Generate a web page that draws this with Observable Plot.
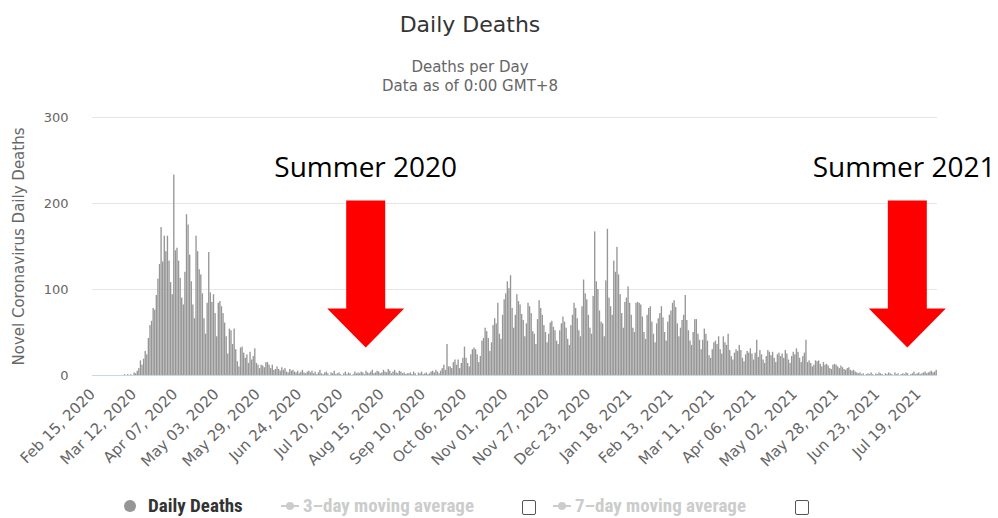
<!DOCTYPE html>
<html><head><meta charset="utf-8">
<script src="https://cdn.jsdelivr.net/npm/d3@7"></script>
<script src="https://cdn.jsdelivr.net/npm/@observablehq/plot@0.6"></script>
<style>
html,body{margin:0;padding:0;background:#fff;}
#page{position:relative;width:998px;height:518px;overflow:hidden;font-family:"DejaVu Sans",sans-serif;}
#title{position:absolute;left:0;width:940px;top:14px;text-align:center;font-size:22px;line-height:22px;color:#333;}
#subtitle{position:absolute;left:0;width:940px;top:58px;text-align:center;font-size:15px;line-height:19px;color:#666;}
#chart{position:absolute;left:0;top:100px;}
#legend{position:absolute;left:0;top:496px;height:20px;width:998px;font-family:"Liberation Sans Narrow","Roboto Condensed","Roboto",sans-serif;font-size:19px;font-weight:bold;}
.sym{position:absolute;top:0;height:20px;}
.txt{position:absolute;top:0;height:20px;line-height:20px;white-space:nowrap;}
.box{position:absolute;top:4px;width:12px;height:13px;border:1px solid #555;border-radius:2px;background:#fff;}
</style></head>
<body>
<div id="page">
  <div id="title">Daily Deaths</div>
  <div id="subtitle">Deaths per Day<br>Data as of 0:00 GMT+8</div>
  <div id="chart"></div>
  <div id="legend"></div>
</div>
<script>
// ---- data ----
const startDate = "2020-02-15";
const deathsFeb2020 = [0,0,0,0,0,0,0,0,0,0,0,0,0,0,0];
const deathsMar2020 = [0,0,0,0,0,1,0,1,0,1,0,3,2,5,8,17,12,19,28,24,43,58,63,78,76,93,112,129,172,132,162];
const deathsApr2020 = [144,162,133,108,94,233,145,148,133,113,90,82,120,187,175,140,109,82,66,162,144,123,117,95,66,48,84,143,96,85];
const deathsMay2020 = [94,72,45,84,86,80,72,61,45,25,54,52,36,54,30,16,10,32,33,26,20,24,14,27,18,22,31,14,12,8,12];
const deathsJun2020 = [11,9,15,15,12,8,12,6,7,10,7,5,9,6,8,4,3,7,5,6,4,3,5,2,4,6,3,2,4,5];
const deathsJul2020 = [3,5,2,4,1,3,6,2,1,3,4,2,0,3,2,5,1,2,3,1,0,2,4,1,3,2,0,1,4,2,3];
const deathsAug2020 = [2,4,3,1,5,3,2,4,6,2,3,5,4,2,3,6,4,3,7,5,2,4,6,3,2,5,4,2,3,1,2];
const deathsSep2020 = [2,3,1,4,2,0,3,2,4,1,2,3,1,2,4,5,3,6,4,2,5,8,12,6,36,10,10,8,15,18];
const deathsOct2020 = [12,18,8,14,20,33,20,14,10,24,30,32,30,24,15,22,40,43,55,51,43,28,38,58,66,60,84,48,42,70,88];
const deathsNov2020 = [95,109,101,116,78,55,70,94,86,82,71,64,45,60,84,80,72,51,48,36,65,87,78,70,58,50,38,48,61,63];
const deathsDec2020 = [56,52,40,36,52,60,68,62,55,42,35,58,70,84,78,66,52,45,80,111,95,88,70,55,48,92,167,109,100,75,62];
const deathsJan2021 = [60,45,110,170,90,80,70,133,120,149,117,94,72,55,85,90,103,84,70,55,50,84,85,84,82,68,50,42,70,78,80];
const deathsFeb2021 = [62,48,38,60,66,72,80,67,50,40,62,70,75,84,87,79,60,45,55,64,70,93,64,52,40,35,50,65];
const deathsMar2021 = [65,48,41,30,41,54,48,40,23,20,30,38,40,36,45,30,25,45,38,35,48,29,22,18,26,30,28,35,29,20,16];
const deathsApr2021 = [24,28,26,31,25,18,26,41,21,29,24,18,14,22,29,27,23,27,20,15,24,26,22,25,20,29,25,18,14,22];
const deathsMay2021 = [27,24,31,27,20,15,22,26,41,15,17,14,10,12,17,16,17,13,10,15,12,13,11,8,7,12,13,12,10,8,11];
const deathsJun2021 = [9,7,6,8,9,6,5,6,4,3,2,3,1,2,0,1,2,1,3,1,0,2,1,3,2,1,0,2,1,3];
const deathsJul2021 = [2,1,0,3,1,2,0,1,2,1,3,2,0,1,2,4,1,2,3,1,2,3,4,2,3,4,5,3,4,6];

const xTickDates = ["2020-02-15","2020-03-12","2020-04-07","2020-05-03","2020-05-29","2020-06-24","2020-07-20","2020-08-15","2020-09-10","2020-10-06","2020-11-01","2020-11-27","2020-12-23","2021-01-18","2021-02-13","2021-03-11","2021-04-06","2021-05-02","2021-05-28","2021-06-23","2021-07-19"];
const yTicks = [0, 100, 200, 300];
const yTitle = "Novel Coronavirus Daily Deaths";
const summerLabels = ["Summer 2020", "Summer 2021"];
const summerLabelDates = ["2020-08-05", "2021-07-10"];
const arrowDates = ["2020-08-05", "2021-07-12"];
const legendItems = ["Daily Deaths", "3\u2013day moving average", "7\u2013day moving average"];

// ---- build ----
const utc = s => new Date(s + "T00:00:00Z");
const months = [deathsFeb2020, deathsMar2020, deathsApr2020, deathsMay2020, deathsJun2020, deathsJul2020, deathsAug2020, deathsSep2020, deathsOct2020, deathsNov2020, deathsDec2020, deathsJan2021, deathsFeb2021, deathsMar2021, deathsApr2021, deathsMay2021, deathsJun2021, deathsJul2021];
const values = months.flat();
const start = utc(startDate);
const rows = values.map((v, i) => ({date: d3.utcDay.offset(start, i), deaths: v}));
const end = d3.utcDay.offset(start, values.length);

const arrowSymbol = {
  draw(context, size) {
    const u = Math.sqrt(size / Math.PI) / 73.5;
    const top = -73.5 * u, base = 34.5 * u, tip = 73.5 * u, sw = 19.5 * u, hw = 38.5 * u;
    context.moveTo(-sw, top);
    context.lineTo(sw, top);
    context.lineTo(sw, base);
    context.lineTo(hw, base);
    context.lineTo(0, tip);
    context.lineTo(-hw, base);
    context.lineTo(-sw, base);
    context.closePath();
  }
};

const chart = Plot.plot({
  width: 998,
  height: 390,
  marginLeft: 92,
  marginRight: 61,
  marginTop: 17,
  marginBottom: 115,
  style: {fontFamily: "DejaVu Sans, sans-serif", fontSize: "14px", color: "#666", background: "transparent"},
  x: {type: "utc", domain: [start, end]},
  y: {domain: [0, 300]},
  marks: [
    Plot.gridY(yTicks.filter(d => d > 0), {stroke: "#e6e6e6", strokeOpacity: 1}),
    Plot.rectY(rows, {x: "date", y: "deaths", interval: "day", fill: "#969696", insetLeft: 0.12, insetRight: 0.12}),
    Plot.ruleY([0], {stroke: "#ccd6eb"}),
    Plot.axisY({ticks: yTicks, tickSize: 0, tickPadding: 24, fontSize: 13, label: null, fill: "#666"}),
    Plot.axisX({ticks: xTickDates.map(utc), tickFormat: d3.utcFormat("%b %d, %Y"), tickRotate: -45, tickSize: 0, tickPadding: 16, fontSize: 15, label: null, fill: "#666"}),
    Plot.text([yTitle], {frameAnchor: "left", dx: -73, rotate: -90, textAnchor: "middle", fontSize: 15, fill: "#666"}),
    Plot.text(summerLabels, {x: summerLabelDates.map(utc), frameAnchor: "top", dy: 40, text: d => d, fontSize: 28, fill: "#000", fontFamily: "Open Sans, sans-serif"}),
    Plot.dot(arrowDates.map(utc), {x: d => d, dy: 27.5, symbol: arrowSymbol, r: 73.5, fill: "#ff0000", stroke: "none"})
  ]
});
document.getElementById("chart").appendChild(chart);

// ---- legend ----
const legend = document.getElementById("legend");
const symbolPos = [124, 280, 552];
const textPos = [148, 303, 575];
const boxPos = [null, 522, 795];
legendItems.forEach((name, i) => {
  const s = document.createElement("div");
  s.className = "sym";
  s.style.left = symbolPos[i] + "px";
  s.innerHTML = i === 0
    ? '<svg width="14" height="20" style="display:block"><circle cx="6" cy="10" r="6" fill="#969696"/></svg>'
    : '<svg width="22" height="20" style="display:block"><line x1="1" x2="19" y1="10" y2="10" stroke="#ccc" stroke-width="2"/><circle cx="10" cy="10" r="4" fill="#ccc"/></svg>';
  legend.appendChild(s);
  const t = document.createElement("div");
  t.className = "txt";
  t.style.left = textPos[i] + "px";
  t.style.color = i === 0 ? "#333" : "#ccc";
  t.textContent = name;
  legend.appendChild(t);
  if (boxPos[i] != null) {
    const b = document.createElement("div");
    b.className = "box";
    b.style.left = boxPos[i] + "px";
    legend.appendChild(b);
  }
});
</script>
</body></html>
